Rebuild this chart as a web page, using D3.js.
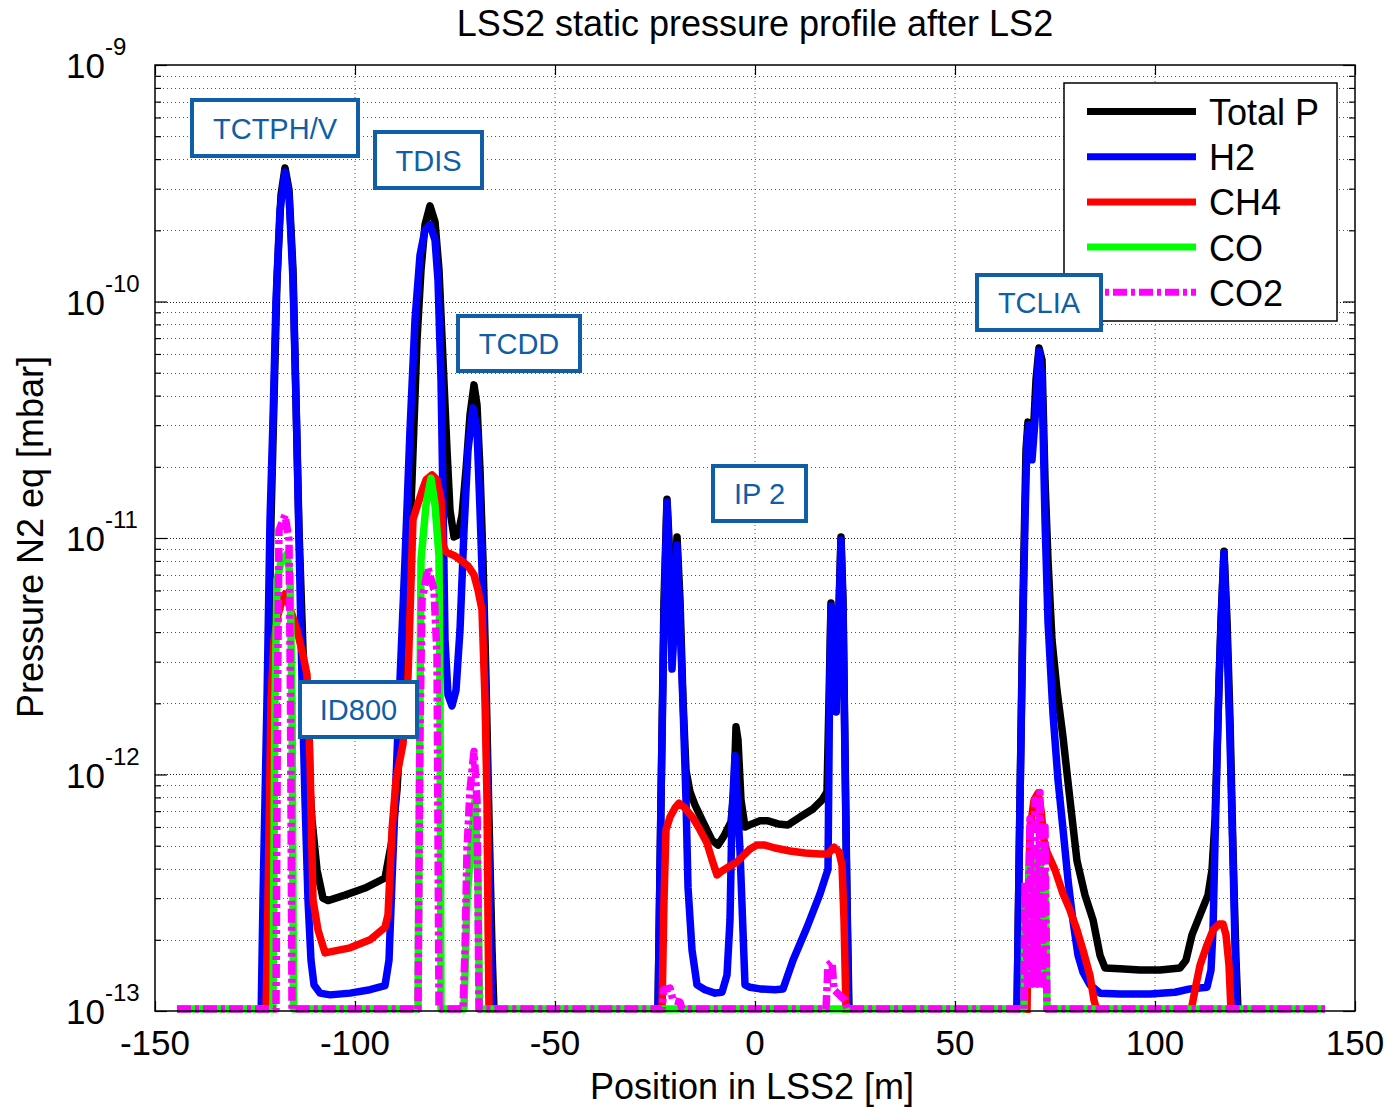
<!DOCTYPE html>
<html>
<head>
<meta charset="utf-8">
<script src="https://cdn.jsdelivr.net/npm/d3@7"></script>
<style>
  body { margin: 0; background: #fff; }
  svg { display: block; }
  text { font-family: "Liberation Sans", Arial, sans-serif; }
</style>
</head>
<body>
<svg id="chart" width="1391" height="1107"></svg>
<script>
// ---- Axis ticks and labels ----
const xTickValues = [-150, -100, -50, 0, 50, 100, 150];
const yDecades = [1e-13, 1e-12, 1e-11, 1e-10, 1e-9];
const yExponents = ["-13", "-12", "-11", "-10", "-9"];
const seriesNames = ["Total P", "H2", "CH4", "CO", "CO2"];
const annotationLabels = ["TCTPH/V", "TDIS", "TCDD", "ID800", "IP 2", "TCLIA"];

// ---- Pressure profiles: [position in LSS2 (m), pressure (mbar, N2 eq)] ----
// Values under 1e-13 lie below the plotted range.
const totalP = [
  [-144.5, 5e-14], [-123.5, 5e-14], [-123.25, 1.0e-13], [-122.75, 2.95e-13], [-121.75, 2.07e-12],
  [-121, 1.19e-11], [-120.25, 3.83e-11], [-119.5, 1.23e-10], [-118.5, 2.82e-10], [-117.5, 3.67e-10],
  [-116.5, 2.96e-10], [-115.5, 1.36e-10], [-114.75, 3.83e-11], [-114, 1.08e-11], [-113, 3.36e-12],
  [-112, 1.40e-12], [-110.75, 6.43e-13], [-109.5, 3.95e-13], [-108, 3.0e-13], [-106.75, 2.93e-13],
  [-102.5, 3.09e-13], [-97.5, 3.31e-13], [-92.5, 3.65e-13], [-90.75, 5.28e-13], [-89.5, 8.6e-13],
  [-88.25, 2.07e-12], [-87, 5.47e-12], [-85.75, 1.76e-11], [-84.5, 6.87e-11], [-83.5, 1.36e-10],
  [-82.5, 2.11e-10], [-81.25, 2.54e-10], [-80, 2.17e-10], [-79, 1.36e-10], [-78, 5.66e-11],
  [-77, 2.36e-11], [-76.25, 1.31e-11], [-75.25, 1.01e-11], [-74.25, 1.03e-11], [-73.25, 1.25e-11],
  [-72.25, 1.94e-11], [-71.25, 3.31e-11], [-70.25, 4.44e-11], [-69.5, 3.65e-11], [-68.75, 1.94e-11],
  [-68, 8.07e-12], [-67.25, 2.51e-12], [-66.5, 6.43e-13], [-65.75, 1.81e-13], [-65.25, 1.0e-13],
  [-64.75, 5e-14],
  [-25, 5e-14], [-24.25, 1.0e-13], [-23.5, 7.8e-13], [-22.75, 5.47e-12], [-22, 1.46e-11],
  [-21.25, 8.07e-12], [-20.75, 3.05e-12], [-20.25, 4.5e-12], [-19.5, 1.01e-11], [-18.75, 5.47e-12],
  [-18, 2.07e-12], [-17.25, 1.04e-12], [-16.25, 8.44e-13], [-15, 7.43e-13], [-13, 6.3e-13],
  [-10.75, 5.28e-13], [-9.25, 5.03e-13], [-7.75, 5.5e-13], [-6, 6.3e-13], [-5.25, 8.6e-13],
  [-4.75, 1.59e-12], [-4.25, 1.40e-12], [-3.5, 7.8e-13], [-2.5, 6.0e-13], [-0.75, 6.18e-13],
  [1.25, 6.37e-13], [3.25, 6.37e-13], [5.75, 6.18e-13], [8.25, 6.12e-13], [11.25, 6.61e-13],
  [14.5, 7.15e-13], [16.75, 7.8e-13], [18, 8.44e-13], [18.5, 2.07e-12], [19, 5.31e-12],
  [19.5, 3.71e-12], [20.25, 1.84e-12], [20.75, 3.71e-12], [21.5, 1.01e-11], [22, 5.47e-12],
  [22.5, 1.27e-12], [23, 2.95e-13], [23.5, 1.0e-13], [24.25, 5e-14],
  [64.75, 5e-14], [65.5, 1.0e-13], [66.25, 7.8e-13], [67, 5.47e-12], [67.75, 2.36e-11],
  [68.25, 3.09e-11], [69, 3.01e-11], [69.5, 2.6e-11], [70.25, 4.66e-11], [71, 6.36e-11],
  [71.75, 5.66e-11], [72.5, 1.76e-11], [73.25, 8.07e-12], [74.25, 3.71e-12], [75.5, 2.27e-12],
  [77, 1.44e-12], [78.75, 7.8e-13], [80.5, 4.31e-13], [82.5, 3.09e-13], [84.5, 2.43e-13],
  [86.25, 1.72e-13], [87.5, 1.52e-13], [91.25, 1.51e-13], [96.25, 1.49e-13], [101.25, 1.49e-13],
  [106.25, 1.52e-13], [107.75, 1.64e-13], [109.25, 2.1e-13], [111.25, 2.55e-13], [113.25, 3.09e-13],
  [114.25, 3.95e-13], [115, 6.43e-13], [115.75, 1.7e-12], [116.5, 4.5e-12], [117.25, 8.8e-12],
  [118, 4.5e-12], [118.75, 1.7e-12], [119.5, 4.8e-13], [120.25, 1.64e-13], [120.75, 1.0e-13],
  [121.25, 5e-14], [142.5, 5e-14]
];

const h2 = [
  [-144.5, 5e-14], [-123.75, 5e-14], [-123, 2.95e-13], [-122, 2.07e-12], [-121.25, 1.19e-11],
  [-120.5, 3.15e-11], [-119.75, 1.01e-10], [-118.75, 2.44e-10], [-117.5, 3.53e-10], [-116.5, 2.82e-10],
  [-115.5, 1.23e-10], [-114.75, 3.83e-11], [-114, 9.8e-12], [-113.25, 2.51e-12], [-112.5, 7.8e-13],
  [-111.75, 2.95e-13], [-111, 1.64e-13], [-110.25, 1.29e-13], [-108.75, 1.19e-13], [-106.25, 1.17e-13],
  [-101.25, 1.19e-13], [-96.25, 1.23e-13], [-92.5, 1.28e-13], [-91.5, 1.64e-13], [-90.75, 3.58e-13],
  [-89.75, 9.48e-13], [-88.75, 2.51e-12], [-87.5, 8.07e-12], [-86.25, 2.86e-11], [-85, 8.36e-11],
  [-83.75, 1.57e-10], [-82.5, 2.01e-10], [-81.25, 2.11e-10], [-80, 1.82e-10], [-79.25, 1.23e-10],
  [-78.5, 4.66e-11], [-78, 1.45e-11], [-77.5, 3.71e-12], [-76.75, 2.17e-12], [-75.75, 1.95e-12],
  [-74.75, 2.27e-12], [-73.75, 4.08e-12], [-72.75, 1.08e-11], [-71.75, 2.36e-11], [-70.5, 3.55e-11],
  [-69.5, 2.86e-11], [-68.75, 1.31e-11], [-68, 5.47e-12], [-67.25, 1.70e-12], [-66.5, 4.36e-13],
  [-66, 1.64e-13], [-65.5, 1.0e-13], [-65, 5e-14],
  [-25, 5e-14], [-24.25, 1.0e-13], [-23.5, 7.8e-13], [-22.75, 4.5e-12], [-22, 1.42e-11],
  [-21.25, 6.64e-12], [-20.75, 2.79e-12], [-20.25, 4.08e-12], [-19.5, 9.34e-12], [-18.75, 4.5e-12],
  [-18, 1.97e-12], [-17.25, 7.8e-13], [-16.75, 3.34e-13], [-15.75, 1.81e-13], [-14.5, 1.29e-13],
  [-12.5, 1.23e-13], [-10, 1.19e-13], [-8.25, 1.20e-13], [-7, 1.42e-13], [-6.25, 2.43e-13],
  [-5.75, 6.81e-13], [-5, 1.2e-12], [-3.75, 4.75e-13], [-2.5, 1.29e-13], [-1.25, 1.26e-13],
  [1.25, 1.24e-13], [5, 1.23e-13], [7, 1.24e-13], [9.5, 1.64e-13], [13, 2.26e-13],
  [16.25, 3.13e-13], [18.25, 3.98e-13], [18.625, 2.07e-12], [19, 5.16e-12], [19.5, 3.36e-12],
  [20.25, 1.84e-12], [20.75, 3.36e-12], [21.5, 9.8e-12], [22, 4.96e-12], [22.5, 1.15e-12],
  [23, 2.67e-13], [23.375, 1.0e-13], [24, 5e-14],
  [64.75, 5e-14], [65.5, 1.0e-13], [66.25, 7.8e-13], [67, 4.5e-12], [67.5, 1.19e-11],
  [68, 2.6e-11], [68.5, 3.01e-11], [69.25, 2.14e-11], [70, 3.15e-11], [71, 6.18e-11],
  [71.75, 4.66e-11], [72.5, 1.19e-11], [73.25, 4.42e-12], [74.5, 1.80e-12], [75.75, 9.48e-13],
  [77, 5.88e-13], [78.25, 3.58e-13], [79.5, 2.4e-13], [80.75, 1.72e-13], [82, 1.46e-13],
  [83.75, 1.29e-13], [86.25, 1.19e-13], [91.25, 1.18e-13], [98.75, 1.18e-13], [105, 1.20e-13],
  [108.75, 1.24e-13], [113, 1.26e-13], [114, 1.49e-13], [114.5, 2.2e-13], [115.25, 7.8e-13],
  [116, 2.51e-12], [116.75, 5.47e-12], [117.25, 8.65e-12], [118, 3.71e-12], [118.75, 1.40e-12],
  [119.5, 4.36e-13], [120.25, 1.23e-13], [120.5, 1.0e-13], [121, 5e-14], [142.5, 5e-14]
];

const ch4 = [
  [-144.5, 5e-14], [-122.75, 5e-14], [-122.25, 1.0e-13], [-121.75, 2.95e-13], [-121, 2.07e-12],
  [-120.25, 3.71e-12], [-119.25, 4.72e-12], [-118.25, 5.47e-12], [-117.5, 5.8e-12], [-116.5, 5.21e-12],
  [-114.5, 4.08e-12], [-113, 3.2e-12], [-112, 2.64e-12], [-111.25, 1.15e-12], [-110.5, 2.95e-13],
  [-109.25, 2.2e-13], [-107.5, 1.76e-13], [-101.25, 1.85e-13], [-96.25, 2.0e-13], [-92.5, 2.26e-13],
  [-91.75, 2.55e-13], [-90.75, 5.83e-13], [-89.75, 9.48e-13], [-88, 1.35e-12], [-86.75, 2.58e-12],
  [-85.5, 1.20e-11], [-83.25, 1.58e-11], [-82.25, 1.76e-11], [-80.75, 1.85e-11], [-79.5, 1.76e-11],
  [-78.5, 1.45e-11], [-78, 9.34e-12], [-77.25, 8.73e-12], [-75, 8.39e-12], [-73, 7.92e-12],
  [-71.75, 7.62e-12], [-70.25, 6.98e-12], [-69.25, 6.03e-12], [-68.25, 4.96e-12], [-67.5, 2.07e-12],
  [-67, 7.8e-13], [-66.75, 2.43e-13], [-66.5, 1.0e-13], [-66, 5e-14],
  [-24, 5e-14], [-23.25, 1.0e-13], [-22.75, 2.95e-13], [-22.25, 5.83e-13], [-21.25, 6.61e-13],
  [-20, 7.22e-13], [-19, 7.57e-13], [-17.5, 7.22e-13], [-15.5, 6.54e-13], [-13.75, 5.83e-13],
  [-12, 5.13e-13], [-10.75, 4.36e-13], [-9.5, 3.76e-13], [-8.25, 3.91e-13], [-6.25, 4.1e-13],
  [-4.5, 4.27e-13], [-2.75, 4.57e-13], [-1.25, 4.84e-13], [0.5, 5.03e-13], [2.5, 5.03e-13],
  [5, 4.89e-13], [8.75, 4.75e-13], [12.5, 4.66e-13], [16.25, 4.61e-13], [18.25, 4.61e-13],
  [19.75, 4.93e-13], [21, 4.7e-13], [21.75, 4.14e-13], [22.25, 2.43e-13], [22.75, 1.0e-13],
  [23.25, 5e-14],
  [67.25, 5e-14], [68, 1.0e-13], [68.375, 2.95e-13], [68.75, 5.83e-13], [69.75, 7.8e-13],
  [70.75, 8.35e-13], [71.5, 7.08e-13], [72.25, 5.28e-13], [73, 4.7e-13], [75, 3.95e-13],
  [77, 3.13e-13], [78.75, 2.67e-13], [80.5, 2.2e-13], [82, 1.81e-13], [83.75, 1.41e-13],
  [84.75, 1.11e-13], [85.5, 1.0e-13], [86.25, 5e-14],
  [108.25, 5e-14], [109, 1.0e-13], [110.25, 1.29e-13], [111.25, 1.56e-13], [113, 1.9e-13],
  [114.5, 2.2e-13], [116, 2.33e-13], [117, 2.33e-13], [117.75, 2.1e-13], [118.5, 1.56e-13],
  [119, 1.0e-13], [119.5, 5e-14], [142.5, 5e-14]
];

const co = [
  [-144.5, 1.02e-13], [-120.5, 1.02e-13], [-120, 2.07e-12], [-119.5, 6.64e-12], [-118.5, 7.92e-12],
  [-117, 8.56e-12], [-116.25, 6.98e-12], [-115.75, 2.07e-12], [-115.375, 1.02e-13],
  [-84.25, 1.02e-13], [-83.75, 2.07e-12], [-83.5, 8.07e-12], [-82.25, 1.38e-11], [-81, 1.79e-11],
  [-80, 1.38e-11], [-79, 8.39e-12], [-78.75, 2.07e-12], [-78.5, 1.02e-13],
  [-72.75, 1.02e-13], [-72, 2.95e-13], [-71.25, 4.36e-13], [-70, 7.8e-13], [-69.25, 3.58e-13],
  [-68.875, 1.02e-13],
  [67.25, 1.02e-13], [67.5, 3.0e-13], [68.125, 1.3e-13], [68.75, 4.4e-13], [69.375, 1.3e-13],
  [70, 4.8e-13], [70.625, 1.3e-13], [71.25, 4.8e-13], [71.875, 1.3e-13], [72.5, 3.8e-13],
  [73, 1.02e-13], [142.5, 1.02e-13]
];

const co2 = [
  [-144.5, 1.02e-13], [-119.75, 1.02e-13], [-119.375, 2.07e-12], [-119, 1.08e-11], [-117.5, 1.25e-11],
  [-116.5, 9.8e-12], [-116.125, 2.07e-12], [-115.75, 1.02e-13],
  [-84.25, 1.02e-13], [-83.75, 1.54e-12], [-83.25, 5.47e-12], [-81.75, 7.46e-12], [-80.25, 6.03e-12],
  [-79.5, 3.2e-12], [-79, 1.02e-13],
  [-73, 1.02e-13], [-72.5, 1.81e-13], [-72, 4.8e-13], [-71.25, 8.6e-13], [-70.25, 1.25e-12],
  [-69.5, 7.8e-13], [-69.25, 2.95e-13], [-69, 1.02e-13],
  [-23.25, 1.02e-13], [-22.75, 1.23e-13], [-21.25, 1.25e-13], [-20.5, 1.11e-13], [-18.75, 1.09e-13],
  [-18.25, 1.02e-13],
  [17.75, 1.02e-13], [18.25, 1.56e-13], [19.25, 1.61e-13], [19.75, 1.23e-13], [22.5, 1.11e-13],
  [23, 1.02e-13],
  [67.25, 1.02e-13], [67.5, 3.5e-13], [68.125, 1.3e-13], [68.75, 6.5e-13], [69.375, 1.3e-13],
  [70, 7.8e-13], [70.625, 1.3e-13], [71.25, 8.4e-13], [71.875, 1.3e-13], [72.5, 6.0e-13],
  [73, 1.02e-13], [142.5, 1.02e-13]
];

// ---- Layout ----
const plot = { left: 155, right: 1355, top: 65, bottom: 1011 };
const seriesStyles = [
  { color: "#000000", dash: null },
  { color: "#0000ff", dash: null },
  { color: "#ff0000", dash: null },
  { color: "#00ff00", dash: null },
  { color: "#ff00ff", dash: "14,4,4,4" }
];
const seriesData = [totalP, h2, ch4, co, co2];
const boxColor = "#105ea5";
const annotationBoxes = [
  { x0: 192, x1: 358, y0: 100, y1: 156 },
  { x0: 375, x1: 482, y0: 132, y1: 188 },
  { x0: 458, x1: 580, y0: 316, y1: 371 },
  { x0: 300, x1: 417, y0: 682, y1: 737 },
  { x0: 713, x1: 806, y0: 466, y1: 521 },
  { x0: 977, x1: 1101, y0: 275, y1: 330 }
];

const svg = d3.select("#chart");
const x = d3.scaleLinear().domain([-150, 150]).range([plot.left, plot.right]);
const y = d3.scaleLog().domain([1e-13, 1e-9]).range([plot.bottom, plot.top]);

const isDecade = v => Math.abs(Math.log10(v) - Math.round(Math.log10(v))) < 1e-6;
const yAllTicks = y.ticks();
const yMinor = yAllTicks.filter(v => !isDecade(v));

// ---- Grid ----
const grid = svg.append("g");
grid.selectAll("line.gx").data(xTickValues.slice(1, -1)).join("line")
  .attr("x1", d => x(d)).attr("x2", d => x(d))
  .attr("y1", plot.top).attr("y2", plot.bottom)
  .attr("stroke", "#555").attr("stroke-width", 1).attr("stroke-dasharray", "1,3");
grid.selectAll("line.gy").data(yAllTicks.filter(v => v > 1e-13 * 1.001 && v < 1e-9 * 0.999)).join("line")
  .attr("x1", plot.left).attr("x2", plot.right)
  .attr("y1", d => Math.round(y(d)) + 0.5).attr("y2", d => Math.round(y(d)) + 0.5)
  .attr("stroke", d => isDecade(d) ? "#222" : "#555")
  .attr("stroke-width", 1)
  .attr("stroke-dasharray", d => isDecade(d) ? "1,2" : "1,3");

// ---- Series ----
svg.append("defs").append("clipPath").attr("id", "plotClip")
  .append("rect").attr("x", plot.left).attr("y", plot.top)
  .attr("width", plot.right - plot.left).attr("height", plot.bottom - plot.top + 2);

const line = d3.line().x(d => x(d[0])).y(d => y(d[1]));
const lines = svg.append("g").attr("clip-path", "url(#plotClip)");
seriesData.forEach((data, i) => {
  lines.append("path")
    .attr("d", line(data))
    .attr("fill", "none")
    .attr("stroke", seriesStyles[i].color)
    .attr("stroke-width", 7.5)
    .attr("stroke-linejoin", "round")
    .attr("stroke-dasharray", seriesStyles[i].dash);
});

// ---- Ticks (inward, all four sides) ----
function styleAxis(g) {
  g.select(".domain").remove();
  g.selectAll(".tick line").attr("stroke", "#000").attr("stroke-width", 1.2);
  g.selectAll("text").remove();
}
svg.append("g").attr("transform", `translate(0,${plot.bottom})`)
  .call(d3.axisBottom(x).tickValues(xTickValues).tickSize(-10)).call(styleAxis);
svg.append("g").attr("transform", `translate(0,${plot.top})`)
  .call(d3.axisTop(x).tickValues(xTickValues).tickSize(-10)).call(styleAxis);
svg.append("g").attr("transform", `translate(${plot.left},0)`)
  .call(d3.axisLeft(y).tickValues(yDecades).tickSize(-12)).call(styleAxis);
svg.append("g").attr("transform", `translate(${plot.left},0)`)
  .call(d3.axisLeft(y).tickValues(yMinor).tickSize(-6)).call(styleAxis);
svg.append("g").attr("transform", `translate(${plot.right},0)`)
  .call(d3.axisRight(y).tickValues(yDecades).tickSize(-12)).call(styleAxis);
svg.append("g").attr("transform", `translate(${plot.right},0)`)
  .call(d3.axisRight(y).tickValues(yMinor).tickSize(-6)).call(styleAxis);

// ---- Frame ----
svg.append("rect")
  .attr("x", plot.left).attr("y", plot.top)
  .attr("width", plot.right - plot.left).attr("height", plot.bottom - plot.top)
  .attr("fill", "none").attr("stroke", "#000").attr("stroke-width", 1.5);

// ---- Tick labels ----
svg.append("g").selectAll("text").data(xTickValues).join("text")
  .attr("x", d => x(d)).attr("y", plot.bottom + 44)
  .attr("text-anchor", "middle").attr("font-size", 35).attr("fill", "#000")
  .text(d => String(d));

const yLab = svg.append("g").selectAll("g").data(yDecades).join("g");
yLab.append("text")
  .attr("x", 66).attr("y", d => y(d) + 13)
  .attr("font-size", 35).attr("fill", "#000").text("10");
yLab.append("text")
  .attr("x", 105).attr("y", (d) => y(d) - 10)
  .attr("font-size", 24).attr("fill", "#000")
  .text((d, i) => yExponents[i]);

// ---- Titles ----
svg.append("text").attr("x", 755).attr("y", 36).attr("text-anchor", "middle")
  .attr("font-size", 36).attr("fill", "#000").text("LSS2 static pressure profile after LS2");
svg.append("text").attr("x", 752).attr("y", 1099).attr("text-anchor", "middle")
  .attr("font-size", 36).attr("fill", "#000").text("Position in LSS2 [m]");
svg.append("text").attr("transform", "translate(43,537) rotate(-90)").attr("text-anchor", "middle")
  .attr("font-size", 36).attr("fill", "#000").text("Pressure N2 eq [mbar]");

// ---- Legend ----
const legend = svg.append("g");
legend.append("rect").attr("x", 1064).attr("y", 83).attr("width", 273).attr("height", 238)
  .attr("fill", "#fff").attr("stroke", "#000").attr("stroke-width", 1.5);
const legendRowY = i => 111.5 + i * 45.2;
seriesNames.forEach((name, i) => {
  legend.append("line")
    .attr("x1", 1087).attr("x2", 1196)
    .attr("y1", legendRowY(i)).attr("y2", legendRowY(i))
    .attr("stroke", seriesStyles[i].color).attr("stroke-width", 7)
    .attr("stroke-dasharray", seriesStyles[i].dash);
  legend.append("text")
    .attr("x", 1209).attr("y", legendRowY(i) + 13.5)
    .attr("font-size", 36).attr("fill", "#000").text(name);
});

// ---- Component annotations ----
const notes = svg.append("g").selectAll("g").data(annotationLabels).join("g");
notes.append("rect")
  .attr("x", (d, i) => annotationBoxes[i].x0).attr("y", (d, i) => annotationBoxes[i].y0)
  .attr("width", (d, i) => annotationBoxes[i].x1 - annotationBoxes[i].x0)
  .attr("height", (d, i) => annotationBoxes[i].y1 - annotationBoxes[i].y0)
  .attr("fill", "#fff").attr("stroke", boxColor).attr("stroke-width", 4);
notes.append("text")
  .attr("x", (d, i) => (annotationBoxes[i].x0 + annotationBoxes[i].x1) / 2)
  .attr("y", (d, i) => (annotationBoxes[i].y0 + annotationBoxes[i].y1) / 2 + 10.5)
  .attr("text-anchor", "middle").attr("font-size", 29).attr("fill", boxColor)
  .text(d => d);
</script>
</body>
</html>
